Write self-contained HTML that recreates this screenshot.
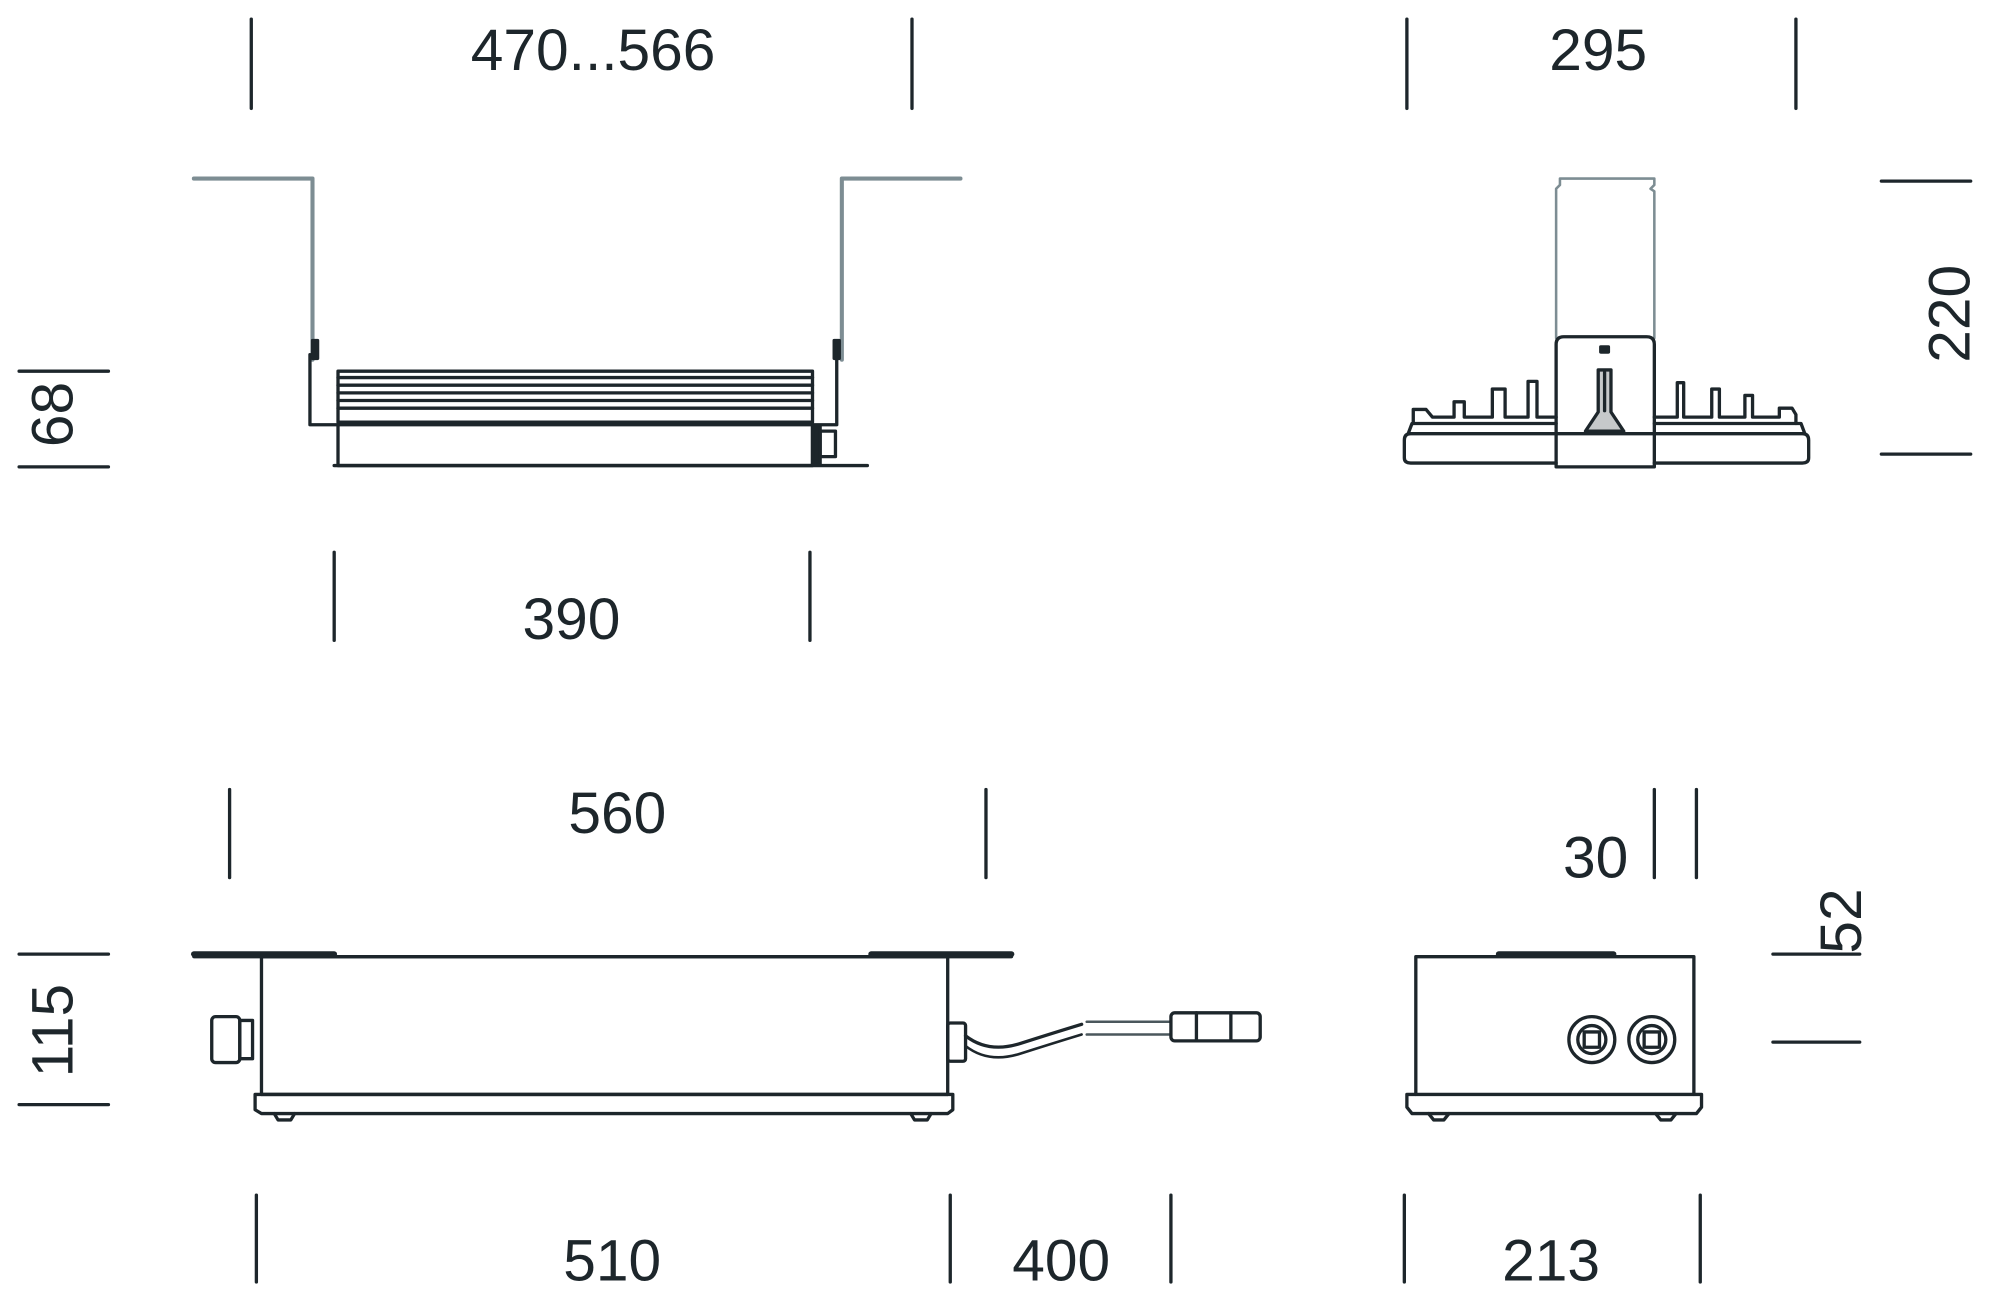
<!DOCTYPE html>
<html><head><meta charset="utf-8"><style>
html,body{margin:0;padding:0;background:#fff;}
svg{display:block;}
text{font-family:"Liberation Sans",sans-serif;fill:#1d262b;font-size:46px;}
</style></head><body>
<svg width="2000" height="1316" viewBox="0 0 1568 1031.7" preserveAspectRatio="none" xmlns="http://www.w3.org/2000/svg">
<g stroke="#1d262b" stroke-width="2.6" fill="none" stroke-linecap="round" stroke-linejoin="round">
<!-- top-left dims -->
<line x1="197" y1="15" x2="197" y2="85"/><line x1="715" y1="15" x2="715" y2="85"/>
<line x1="15" y1="291" x2="85" y2="291"/><line x1="15" y1="366" x2="85" y2="366"/>
<line x1="262" y1="433" x2="262" y2="502"/><line x1="635" y1="433" x2="635" y2="502"/>
<!-- top-left drawing -->
<g stroke="#7d8d93" stroke-width="3.2">
<polyline points="152,140 245,140 245,282"/>
<polyline points="753,140 660,140 660,282"/>
</g>
<polyline points="243,278 243,333 265,333"/>
<polyline points="656,278 656,333 638,333"/>
<rect x="245" y="267" width="4" height="14" fill="#1d262b"/>
<rect x="654" y="267" width="4" height="14" fill="#1d262b"/>
<rect x="265" y="291" width="372" height="40"/>
<line x1="265" y1="296" x2="637" y2="296"/><line x1="265" y1="302" x2="637" y2="302"/>
<line x1="265" y1="308" x2="637" y2="308"/><line x1="265" y1="314" x2="637" y2="314"/>
<line x1="265" y1="320" x2="637" y2="320"/>
<rect x="265" y="333" width="372" height="32"/>
<line x1="262" y1="365" x2="680" y2="365"/>
<rect x="637" y="334" width="6" height="30" fill="#1d262b"/>
<rect x="643" y="338" width="12" height="20"/>
<!-- top-right dims -->
<line x1="1103" y1="15" x2="1103" y2="85"/><line x1="1408" y1="15" x2="1408" y2="85"/>
<line x1="1475" y1="142" x2="1545" y2="142"/><line x1="1475" y1="356" x2="1545" y2="356"/>
<!-- top-right drawing -->
<g stroke="#7d8d93" stroke-width="2">
<polyline points="1220,265 1220,148 1223,145 1223,140 1297,140 1297,145 1294,148 1297,150 1297,265"/>
</g>
<path d="M1220,366 V270 Q1220,264 1226,264 H1291 Q1297,264 1297,270 V366 Z"/>
<line x1="1220" y1="340" x2="1297" y2="340"/>
<path d="M1220,340 H1106 Q1101,340 1101,345 V359 Q1101,363 1106,363 H1220"/>
<path d="M1297,340 H1413 Q1418,340 1418,345 V359 Q1418,363 1413,363 H1297"/>
<polyline points="1104,340 1107,332 1220,332"/>
<polyline points="1415,340 1412,332 1297,332"/>
<path d="M1108,332 V321 H1118 L1123,327 H1140 V315 H1148 V327 H1170 V305 H1180 V327 H1198 V299 H1205 V327 H1220"/>
<path d="M1297,327 H1315 V300 H1320 V327 H1342 V305 H1348 V327 H1368 V310 H1374 V327 H1395 V320 H1405 L1408,325 V332"/>
<path d="M1243,338 L1253,323 V290 H1263 V323 L1273,338 Z" fill="#1d262b" fill-opacity="0.25"/>
<line x1="1258" y1="292" x2="1258" y2="322"/>
<rect x="1255" y="272" width="6" height="4" fill="#1d262b"/>
<!-- bottom-left dims -->
<line x1="180" y1="619" x2="180" y2="688"/><line x1="773" y1="619" x2="773" y2="688"/>
<line x1="15" y1="748" x2="85" y2="748"/><line x1="15" y1="866" x2="85" y2="866"/>
<line x1="201" y1="937" x2="201" y2="1005"/><line x1="745" y1="937" x2="745" y2="1005"/><line x1="918" y1="937" x2="918" y2="1005"/>
<!-- bottom-left drawing -->
<line x1="152" y1="750" x2="793" y2="750"/>
<line x1="152" y1="748" x2="262" y2="748" stroke-width="4.5"/>
<line x1="683" y1="748" x2="793" y2="748" stroke-width="4.5"/>
<rect x="205" y="750" width="538" height="108"/>
<path d="M205,858 H200 V870 L205,873 H743 L747,870 V858 H743"/>
<line x1="205" y1="858" x2="743" y2="858"/>
<path d="M215,873 L218,878 H228 L231,873"/><path d="M714,873 L717,878 H727 L730,873"/>
<rect x="166" y="797" width="22" height="36" rx="3"/>
<rect x="188" y="800" width="10" height="30"/>
<rect x="743" y="802" width="14" height="30" rx="2"/>
<path d="M757,812 Q775,826 800,818 T848,803"/>
<path d="M757,820 Q775,834 800,826 T848,811" stroke-width="2"/>
<g stroke="#4a575c" stroke-width="2"><line x1="852" y1="801" x2="918" y2="801"/><line x1="852" y1="811" x2="918" y2="811"/></g>
<rect x="918" y="794" width="70" height="22" rx="3"/>
<line x1="938" y1="794" x2="938" y2="816"/><line x1="965" y1="794" x2="965" y2="816"/>
<!-- bottom-right dims -->
<line x1="1297" y1="619" x2="1297" y2="688"/><line x1="1330" y1="619" x2="1330" y2="688"/>
<line x1="1390" y1="748" x2="1458" y2="748"/><line x1="1390" y1="817" x2="1458" y2="817"/>
<line x1="1101" y1="937" x2="1101" y2="1005"/><line x1="1333" y1="937" x2="1333" y2="1005"/>
<!-- bottom-right drawing -->
<rect x="1110" y="750" width="218" height="108"/>
<line x1="1175" y1="748" x2="1265" y2="748" stroke-width="4.5"/>
<path d="M1110,858 H1103 V868 L1107,873 H1330 L1334,868 V858 H1328"/>
<path d="M1120,873 L1124,878 H1132 L1136,873"/><path d="M1298,873 L1302,878 H1310 L1314,873"/>
<circle cx="1248" cy="815" r="18"/><circle cx="1248" cy="815" r="11"/><rect x="1242" y="809" width="12" height="12"/>
<circle cx="1295" cy="815" r="18"/><circle cx="1295" cy="815" r="11"/><rect x="1289" y="809" width="12" height="12"/>
</g>
<!-- texts -->
<text x="465" y="55" text-anchor="middle">470...566</text>
<text x="448" y="501" text-anchor="middle">390</text>
<text x="1253" y="55" text-anchor="middle">295</text>
<text x="484" y="653" text-anchor="middle">560</text>
<text x="1251" y="688" text-anchor="middle">30</text>
<text x="480" y="1004" text-anchor="middle">510</text>
<text x="832" y="1004" text-anchor="middle">400</text>
<text x="1216" y="1004" text-anchor="middle">213</text>
<text transform="translate(57,325) rotate(-90)" text-anchor="middle">68</text>
<text transform="translate(57,808) rotate(-90)" text-anchor="middle">115</text>
<text transform="translate(1544,246) rotate(-90)" text-anchor="middle">220</text>
<text transform="translate(1459,722) rotate(-90)" text-anchor="middle">52</text>
</svg>
</body></html>
